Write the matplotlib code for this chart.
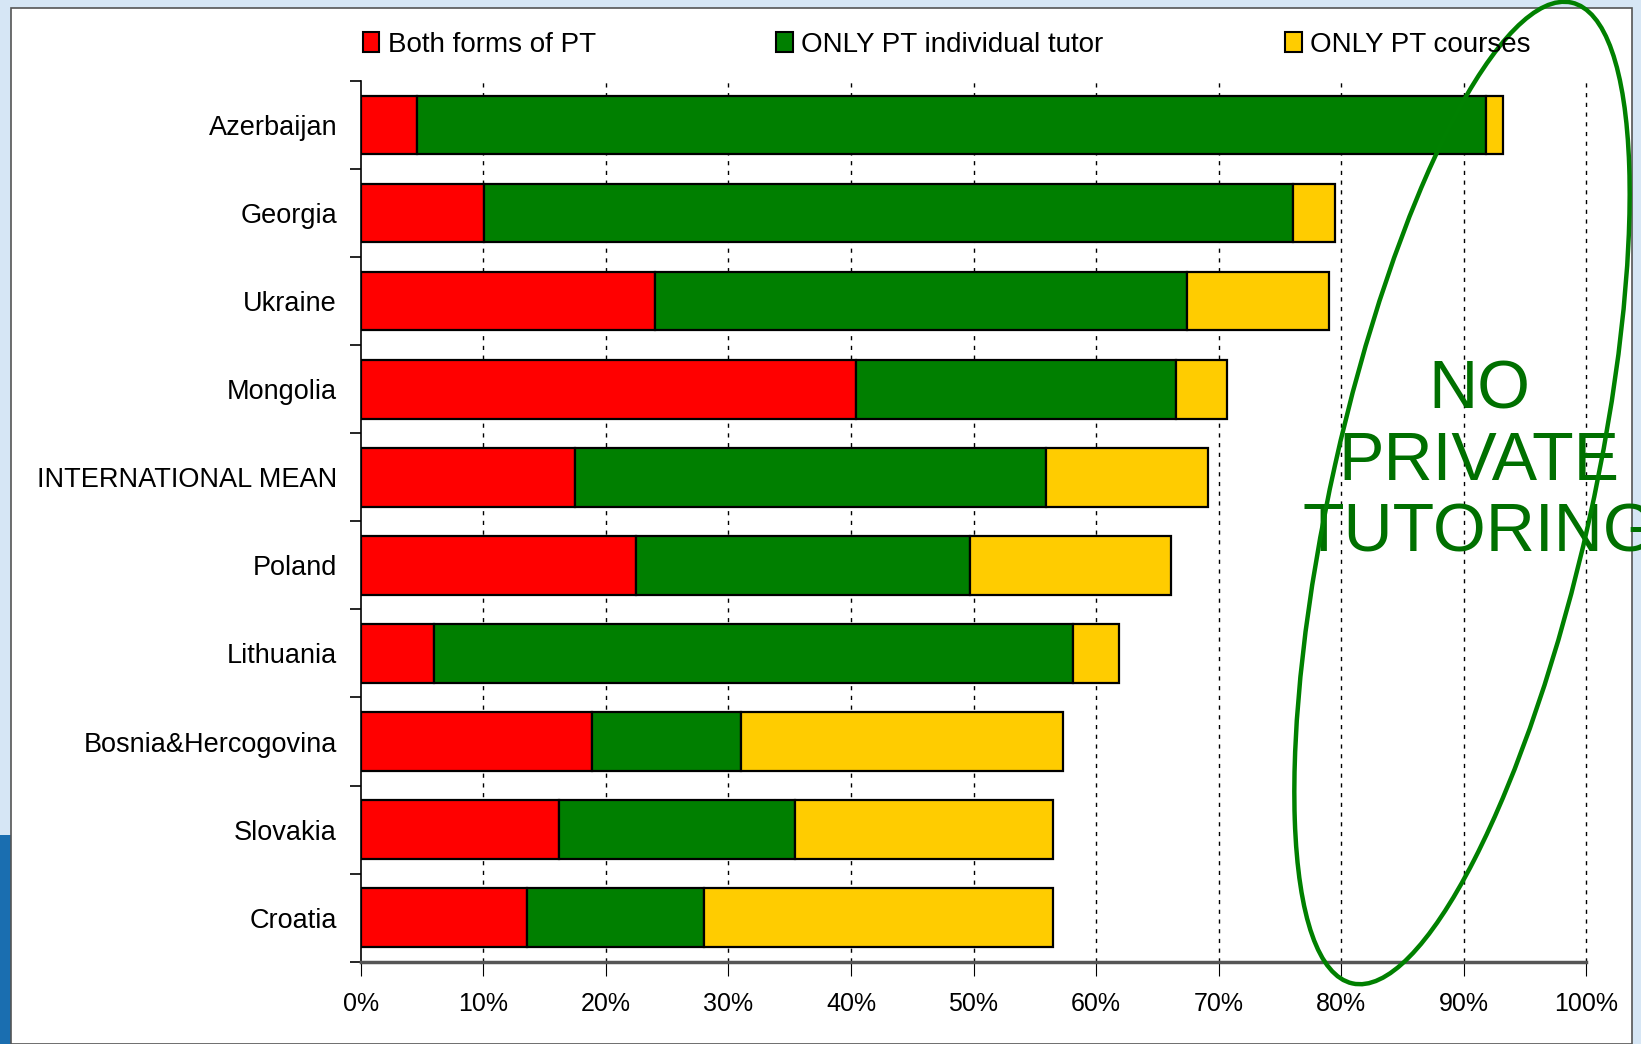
import matplotlib
matplotlib.use("Agg")
import matplotlib.pyplot as plt
from matplotlib.patches import Patch, Ellipse, Rectangle
import numpy as np

plt.rcParams['font.family'] = ['Liberation Sans', 'DejaVu Sans']

countries = ["Azerbaijan", "Georgia", "Ukraine", "Mongolia", "INTERNATIONAL MEAN",
             "Poland", "Lithuania", "Bosnia&Hercogovina", "Slovakia", "Croatia"]
both_pt = [4.6, 10.1, 24.0, 40.4, 17.5, 22.5, 6.0, 18.9, 16.2, 13.6]
only_tutor = [87.2, 66.0, 43.4, 26.1, 38.4, 27.2, 52.1, 12.1, 19.2, 14.4]
only_courses = [1.4, 3.4, 11.6, 4.2, 13.2, 16.4, 3.8, 26.3, 21.1, 28.5]
series_names = ["Both forms of PT", "ONLY PT individual tutor", "ONLY PT courses"]
colors = ["#ff0000", "#007f00", "#ffcc00"]
ticks = np.arange(0, 101, 10)

fig = plt.figure(figsize=(16.41, 10.44), dpi=100)
fig.patch.set_facecolor("#d6e6f5")

# white slide panel and small blue decoration at bottom left
fig.patches.append(Rectangle((0, 0), 12, 209, transform=None, facecolor="#1a6eb0",
                             edgecolor="none", zorder=-2))
fig.patches.append(Rectangle((11, 0), 1621, 1036, transform=None, facecolor="white",
                             edgecolor="#555555", linewidth=1.2, zorder=-1))

ax = fig.add_axes([0.2198, 0.079, 0.7469, 0.843])
ax.set_facecolor("none")

y = np.arange(len(countries))
left = np.zeros(len(countries))
for vals, name, col in zip([both_pt, only_tutor, only_courses], series_names, colors):
    ax.barh(y, vals, left=left, height=0.66, color=col, edgecolor="black",
            linewidth=1.6, label=name, zorder=3)
    left = left + np.array(vals)

ax.set_ylim(len(countries) - 0.5, -0.5)
ax.set_xlim(0, 100)
ax.set_yticks(y)
ax.set_yticklabels(countries, fontsize=19.5)
ax.set_yticks(np.arange(-0.5, len(countries)), minor=True)
ax.tick_params(axis="y", which="major", length=0, pad=17)
ax.tick_params(axis="y", which="minor", length=8, width=1.2, direction="out")
ax.set_xticks(ticks)
ax.set_xticklabels([f"{t}%" for t in ticks], fontsize=18)
ax.tick_params(axis="x", length=10, width=0.8, direction="out", pad=12)

for t in ticks[1:]:
    ax.axvline(t, color="black", linestyle=(0, (3, 4)), linewidth=1.0, zorder=1,
               clip_on=False)

for s in ["top", "right"]:
    ax.spines[s].set_visible(False)
ax.spines["left"].set_linewidth(1.2)
ax.spines["bottom"].set_linewidth(2.5)
ax.spines["bottom"].set_color("#555555")

# legend entries spread across the top
handles = [Patch(facecolor=c, edgecolor="black", linewidth=1.5) for c in colors]
for h, name, xpos in zip(handles, series_names, [0.221, 0.473, 0.783]):
    fig.legend([h], [name], loc="center left", bbox_to_anchor=(xpos, 0.957),
               frameon=False, fontsize=20, handlelength=0.6, handleheight=0.7,
               handletextpad=0.3, borderpad=0, borderaxespad=0)

# annotation: NO PRIVATE TUTORING with ellipse
fig.text(0.9015, 0.557, "NO\nPRIVATE\nTUTORING", color="#007000", fontsize=49,
         ha="center", va="center", linespacing=1.15)
fig.patches.append(Ellipse((14.62, 5.51), 2.60, 10.05, angle=-12.6,
                           transform=fig.dpi_scale_trans, fill=False,
                           edgecolor="#008000", linewidth=3.2, zorder=5))

fig.savefig("out.png", dpi=100, facecolor=fig.get_facecolor())
